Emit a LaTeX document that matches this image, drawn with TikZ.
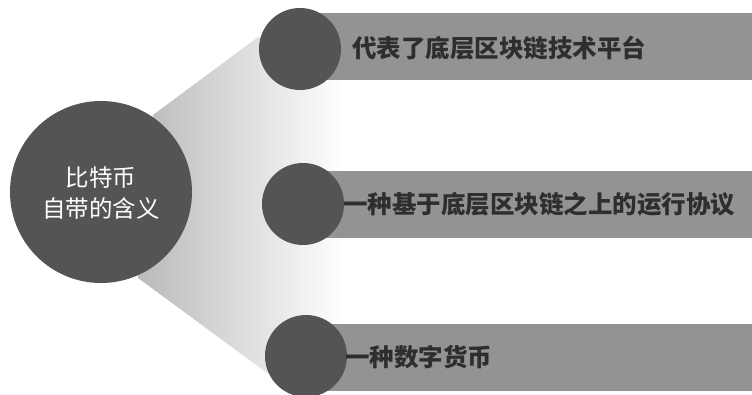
\documentclass[tikz,border=0pt]{standalone}
\usepackage{fontspec}
\newfontfamily\cjk{Noto Sans CJK SC}
\definecolor{circgray}{HTML}{545454}
\definecolor{bargray}{HTML}{939393}
\definecolor{bartext}{HTML}{2E2E2E}
\begin{document}
\begin{tikzpicture}[x=1pt,y=-1pt,
  bigcirc/.style={circle,fill=circgray,minimum size=182pt,inner sep=0pt},
  smallcirc/.style={circle,fill=circgray,minimum size=82pt,inner sep=0pt},
  bar/.style={rectangle,fill=bargray,minimum width=452pt,minimum height=67pt,inner sep=0pt,anchor=west},
  bartxt/.style={anchor=west,inner sep=0pt,text=bartext,font=\cjk\bfseries\fontsize{24.5}{28}\selectfont},
  maintxt/.style={align=center,text=white,font=\cjk\fontsize{23.5}{31}\selectfont}]
\useasboundingbox (0,0) rectangle (752,395);
% fan
\shade[left color=black!27,right color=white]
  (153,115) -- (258,37) -- (345,45) -- (345,370) -- (267,373) -- (138,278) -- cycle;
% bars
\node[bar] (b1) at (300,47) {};
\node[bar] (b2) at (300,205) {};
\node[bar] (b3) at (300,357) {};
% small circles
\node[smallcirc] (c1) at (300,49) {};
\node[smallcirc] (c2) at (303,204) {};
\node[smallcirc] (c3) at (306,356) {};
% big circle
\node[bigcirc] (c0) at (101,192) {};
\node[maintxt] (t0) at (101,193) {比特币\\自带的含义};
% texts
\node[bartxt] (t1) at (352,48) {代表了底层区块链技术平台};
\node[bartxt] (t2) at (343,204) {一种基于底层区块链之上的运行协议};
\node[bartxt] (t3) at (345,357) {一种数字货币};
\end{tikzpicture}
\end{document}
